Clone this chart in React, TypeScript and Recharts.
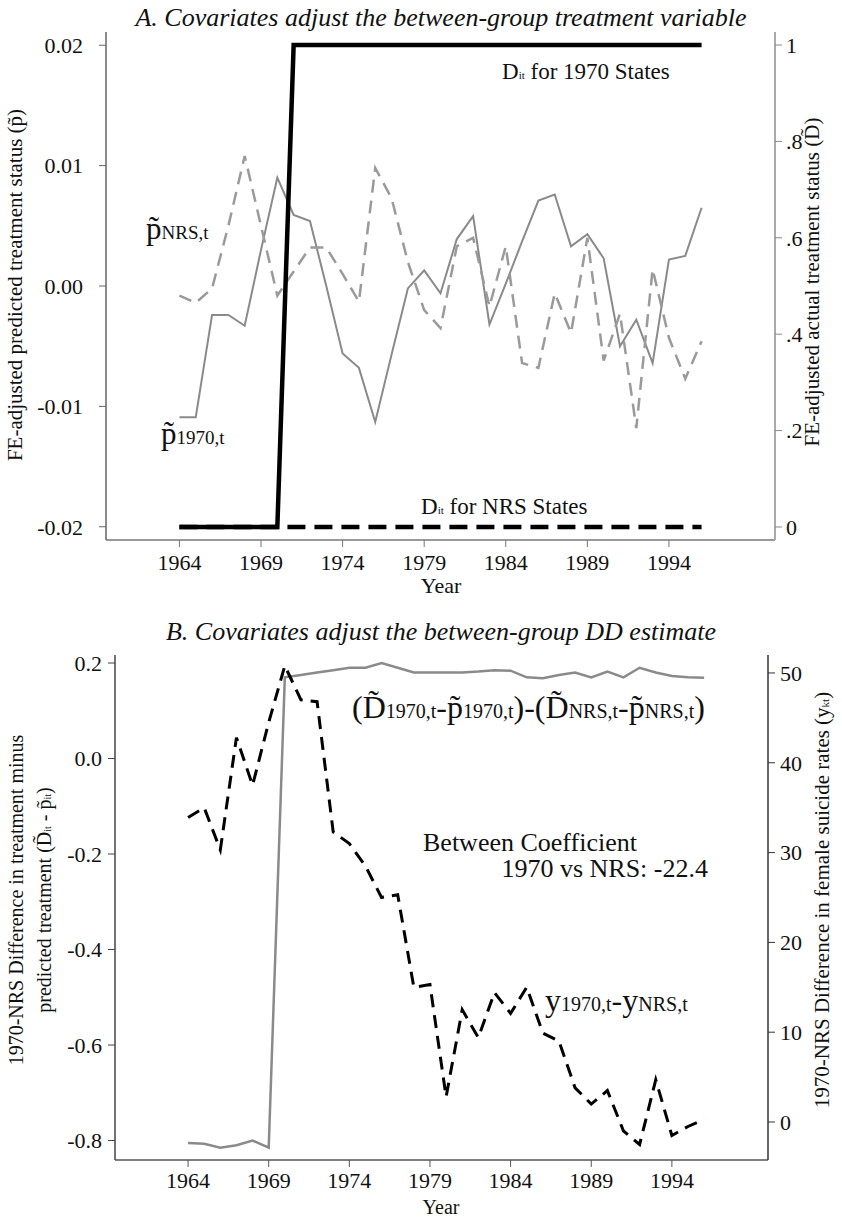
import { LineChart, Line, XAxis, YAxis } from "recharts";

const FONT = '"Liberation Serif", "Times New Roman", serif';

const years = [
  1964, 1965, 1966, 1967, 1968, 1969, 1970, 1971, 1972, 1973, 1974, 1975, 1976,
  1977, 1978, 1979, 1980, 1981, 1982, 1983, 1984, 1985, 1986, 1987, 1988, 1989,
  1990, 1991, 1992, 1993, 1994, 1995, 1996,
];

// panel A, left axis
const pNrs = [
  -0.0008, -0.0014, -0.0002, 0.005, 0.0108, 0.005, -0.0008, 0.0012, 0.0032, 0.0032,
  0.001, -0.0013, 0.0098, 0.0073, 0.002, -0.002, -0.0035, 0.0033, 0.004, -0.0017,
  0.0033, -0.0064, -0.0068, -0.0006, -0.0039, 0.004, -0.0062, -0.0023, -0.0118,
  0.0014, -0.0043, -0.0077, -0.0046,
];
const p1970 = [
  -0.0109, -0.0109, -0.0024, -0.0024, -0.0033, 0.003, 0.009, 0.0059, 0.0054, 0.0,
  -0.0056, -0.0068, -0.0113, -0.0057, -0.0002, 0.0013, -0.0006, 0.0039, 0.0058,
  -0.0032, 0.0002, 0.0037, 0.0071, 0.0076, 0.0033, 0.0043, 0.0023, -0.005, -0.0028,
  -0.0064, 0.0022, 0.0025, 0.0065,
];
// panel A, right axis
const d1970 = [
  0, 0, 0, 0, 0, 0, 0, 1, 1, 1, 1, 1, 1, 1, 1, 1, 1, 1, 1, 1, 1, 1, 1, 1, 1, 1, 1, 1,
  1, 1, 1, 1, 1,
];
const dNrs = [
  0, 0, 0, 0, 0, 0, 0, 0, 0, 0, 0, 0, 0, 0, 0, 0, 0, 0, 0, 0, 0, 0, 0, 0, 0, 0, 0, 0,
  0, 0, 0, 0, 0,
];

// panel B
const diffTreat = [
  -0.805, -0.807, -0.815, -0.81, -0.8, -0.815, 0.17, 0.175, 0.18, 0.185, 0.19, 0.19,
  0.2, 0.19, 0.18, 0.18, 0.18, 0.18, 0.182, 0.185, 0.184, 0.17, 0.168, 0.175, 0.18,
  0.17, 0.182, 0.17, 0.19, 0.18, 0.173, 0.17, 0.169,
];
const diffSuicide = [
  33.9, 35.0, 30.3, 42.8, 37.5, 44.5, 50.8, 47.0, 46.8, 32.3, 31.0, 28.5, 25.0, 25.3,
  15.0, 15.3, 2.8, 12.5, 9.4, 14.4, 12.1, 15.0, 9.9, 9.0, 3.8, 2.0, 3.5, -1.0, -2.5,
  4.7, -1.5, -0.5, 0.3,
];

const yearTicks = [1964, 1969, 1974, 1979, 1984, 1989, 1994];
const leftTicksA = [-0.02, -0.01, 0, 0.01, 0.02];
const rightTicksA = [0, 0.2, 0.4, 0.6, 0.8, 1];
const leftTicksB = [-0.8, -0.6, -0.4, -0.2, 0, 0.2];
const rightTicksB = [0, 10, 20, 30, 40, 50];

const dataA = years.map((year, i) => ({
  year,
  pNrs: pNrs[i],
  p1970: p1970[i],
  d1970: d1970[i],
  dNrs: dNrs[i],
}));
const dataB = years.map((year, i) => ({
  year,
  treat: diffTreat[i],
  suicide: diffSuicide[i],
}));

const tickStyle = { fill: "#111", fontSize: 22, fontFamily: FONT };

// text placed by its baseline
function Txt({ x, y, size, children, italic = false, center = false, right = false }: any) {
  return (
    <div
      style={{
        position: "absolute",
        left: x,
        top: y - 0.8375 * size,
        fontSize: size,
        lineHeight: 1,
        fontFamily: FONT,
        fontStyle: italic ? "italic" : "normal",
        whiteSpace: "nowrap",
        color: "#111",
        transform: center ? "translateX(-50%)" : right ? "translateX(-100%)" : undefined,
      }}
    >
      {children}
    </div>
  );
}

function VLabel({ x, y, size, children }: any) {
  return (
    <div
      style={{
        position: "absolute",
        left: x,
        top: y,
        fontSize: size,
        lineHeight: 1.4,
        fontFamily: FONT,
        whiteSpace: "nowrap",
        textAlign: "center",
        color: "#111",
        transform: "translate(-50%, -50%) rotate(-90deg)",
      }}
    >
      {children}
    </div>
  );
}

const sub = (s: string, size: number) => <span style={{ fontSize: size }}>{s}</span>;

export default function App() {
  return (
    <div
      style={{
        position: "absolute",
        left: 0,
        top: 0,
        width: 842,
        height: 1219,
        background: "#fff",
        overflow: "hidden",
      }}
    >
      <div style={{ position: "absolute", left: 0, top: 0 }}>
        <LineChart
          width={842}
          height={610}
          data={dataA}
          margin={{ top: 32, right: 27, bottom: 40, left: 46 }}
        >
          <XAxis
            dataKey="year"
            type="number"
            domain={[1959.5, 2000.5]}
            ticks={yearTicks}
            allowDataOverflow
            interval={0}
            height={30}
            tickSize={7}
            tickMargin={7}
            axisLine={{ stroke: "#999", strokeWidth: 2 }}
            tickLine={{ stroke: "#777" }}
            tick={tickStyle}
          />
          <YAxis
            yAxisId="left"
            domain={[-0.0211, 0.0211]}
            ticks={leftTicksA}
            allowDataOverflow
            interval={0}
            width={60}
            tickSize={7}
            tickMargin={16}
            tickFormatter={(v: number) => v.toFixed(2)}
            axisLine={{ stroke: "#666", strokeWidth: 1.5 }}
            tickLine={{ stroke: "#666" }}
            tick={tickStyle}
          />
          <YAxis
            yAxisId="right"
            orientation="right"
            domain={[-0.027, 1.027]}
            ticks={rightTicksA}
            allowDataOverflow
            interval={0}
            width={40}
            tickSize={7}
            tickMargin={4}
            tickFormatter={(v: number) =>
              v === 0 ? "0" : v === 1 ? "1" : v.toFixed(1).replace(/^0/, "")
            }
            axisLine={{ stroke: "#aaa", strokeWidth: 2 }}
            tickLine={{ stroke: "#888" }}
            tick={tickStyle}
          />
          <Line
            yAxisId="left"
            dataKey="p1970"
            type="linear"
            stroke="#8a8a8a"
            strokeWidth={2}
            dot={false}
            isAnimationActive={false}
          />
          <Line
            yAxisId="left"
            dataKey="pNrs"
            type="linear"
            stroke="#9a9a9a"
            strokeWidth={2.5}
            strokeDasharray="13 8"
            dot={false}
            isAnimationActive={false}
          />
          <Line
            yAxisId="right"
            dataKey="dNrs"
            type="linear"
            stroke="#000"
            strokeWidth={4.5}
            strokeDasharray="18 9"
            dot={false}
            isAnimationActive={false}
          />
          <Line
            yAxisId="right"
            dataKey="d1970"
            type="linear"
            stroke="#000"
            strokeWidth={4.5}
            dot={false}
            isAnimationActive={false}
          />
        </LineChart>
      </div>

      <div style={{ position: "absolute", left: 0, top: 610 }}>
        <LineChart
          width={842}
          height={609}
          data={dataB}
          margin={{ top: 45, right: 34, bottom: 29, left: 55 }}
        >
          <XAxis
            dataKey="year"
            type="number"
            domain={[1959.47, 1999.96]}
            ticks={yearTicks}
            allowDataOverflow
            interval={0}
            height={30}
            tickSize={7}
            tickMargin={5}
            axisLine={{ stroke: "#555", strokeWidth: 1.5 }}
            tickLine={{ stroke: "#555" }}
            tick={tickStyle}
          />
          <YAxis
            yAxisId="left"
            domain={[-0.8408, 0.2168]}
            ticks={leftTicksB}
            allowDataOverflow
            interval={0}
            width={60}
            tickSize={7}
            tickMargin={6}
            tickFormatter={(v: number) => v.toFixed(1)}
            axisLine={{ stroke: "#444", strokeWidth: 1.5 }}
            tickLine={{ stroke: "#444" }}
            tick={tickStyle}
          />
          <YAxis
            yAxisId="right"
            orientation="right"
            domain={[-4.23, 52]}
            ticks={rightTicksB}
            allowDataOverflow
            interval={0}
            width={40}
            tickSize={7}
            tickMargin={5}
            axisLine={{ stroke: "#333", strokeWidth: 1.5 }}
            tickLine={{ stroke: "#333" }}
            tick={tickStyle}
          />
          <Line
            yAxisId="left"
            dataKey="treat"
            type="linear"
            stroke="#8a8a8a"
            strokeWidth={2.5}
            dot={false}
            isAnimationActive={false}
          />
          <Line
            yAxisId="right"
            dataKey="suicide"
            type="linear"
            stroke="#000"
            strokeWidth={3}
            strokeDasharray="13 8"
            dot={false}
            isAnimationActive={false}
          />
        </LineChart>
      </div>

      {/* panel A text */}
      <Txt x={441} y={27} size={26} italic center>
        A. Covariates adjust the between-group treatment variable
      </Txt>
      <Txt x={502} y={79} size={23}>
        D{sub("it", 11)} for 1970 States
      </Txt>
      <Txt x={421} y={514} size={23}>
        D{sub("it", 11)} for NRS States
      </Txt>
      <Txt x={146} y={239} size={31}>
        p̃{sub("NRS,t", 19)}
      </Txt>
      <Txt x={161} y={444} size={31}>
        p̃{sub("1970,t", 19)}
      </Txt>
      <Txt x={441} y={593} size={22} center>
        Year
      </Txt>
      <VLabel x={16} y={285} size={21}>
        FE-adjusted predicted treatment status (p̃)
      </VLabel>
      <VLabel x={813} y={282} size={21}>
        FE-adjusted actual treatment status (D̃)
      </VLabel>

      {/* panel B text */}
      <Txt x={441} y={641} size={26} italic center>
        B. Covariates adjust the between-group DD estimate
      </Txt>
      <Txt x={352} y={718} size={32}>
        (D̃{sub("1970,t", 20)}-p̃{sub("1970,t", 20)})-(D̃{sub("NRS,t", 20)}-p̃
        {sub("NRS,t", 20)})
      </Txt>
      <Txt x={423} y={852} size={26}>
        Between Coefficient
      </Txt>
      <Txt x={708} y={878} size={26} right>
        1970 vs NRS: -22.4
      </Txt>
      <Txt x={545} y={1011} size={32}>
        y{sub("1970,t", 20)}-y{sub("NRS,t", 20)}
      </Txt>
      <Txt x={441} y={1214} size={20} center>
        Year
      </Txt>
      <VLabel x={30} y={900} size={20}>
        1970-NRS Difference in treatment minus
        <br />
        predicted treatment (D̃{sub("it", 10)} - p̃{sub("it", 10)})
      </VLabel>
      <VLabel x={823} y={900} size={21}>
        1970-NRS Difference in female suicide rates (y{sub("kt", 11)})
      </VLabel>
    </div>
  );
}
